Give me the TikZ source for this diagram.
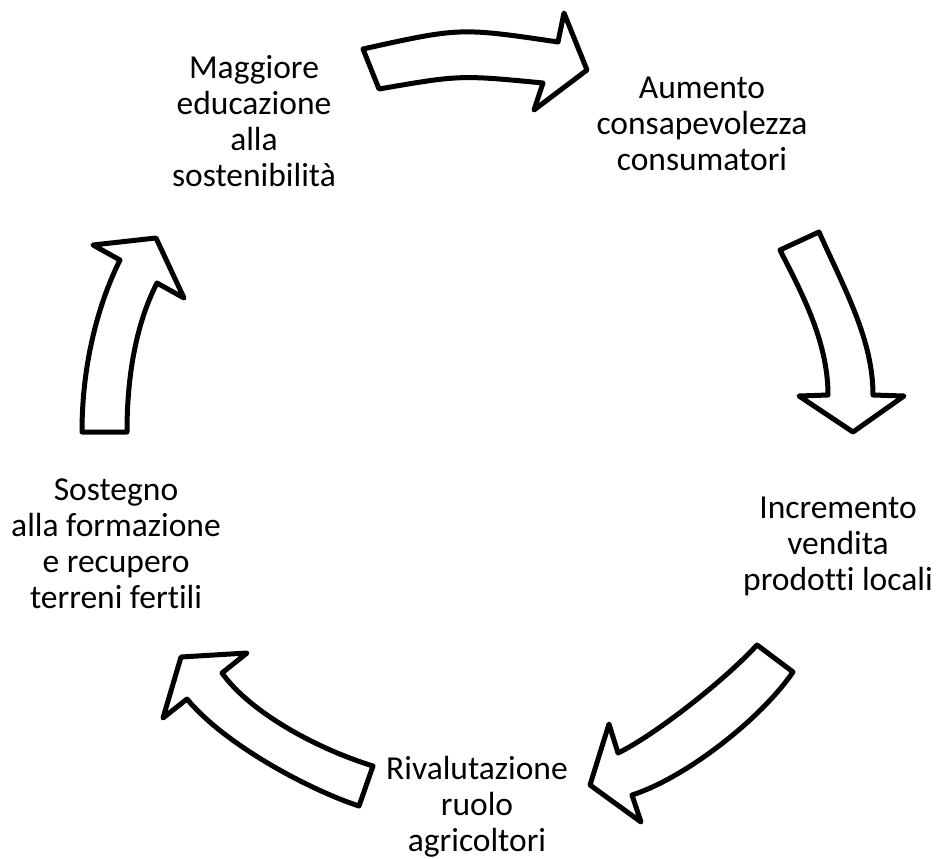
\documentclass[tikz,border=0pt]{standalone}
\usepackage{fontspec}
\setmainfont{Carlito}[Ligatures=NoCommon]
\usepackage{tikz}
\tikzset{
  blockarrow/.style={draw=black, fill=white, line width=5pt, line join=round},
  cycletext/.style={align=center, anchor=base, inner sep=0pt,
    font=\fontsize{33.5}{36}\selectfont}
}

\begin{document}
\begin{tikzpicture}[x=1pt, y=-1pt]
        \useasboundingbox (0, 0) rectangle (937, 859);
        \node[cycletext] (edu) at (254, 186) {Maggiore\\educazione\\alla\\sostenibilità};
        \node[cycletext] (cons) at (702, 170) {Aumento\\consapevolezza\\consumatori};
        \node[cycletext] (vend) at (838, 590) {Incremento\\vendita\\prodotti locali};
        \node[cycletext] (agri) at (477, 851) {Rivalutazione\\ruolo\\agricoltori};
        \node[cycletext] (form) at (116, 608) {Sostegno\\alla formazione\\e recupero\\terreni fertili};
        \draw[blockarrow] (363, 49) .. controls (460, 27.5) .. (558, 42) -- (564, 13) -- (587, 70)
            -- (534, 110) -- (543, 83) .. controls (460, 75) .. (379, 89) -- cycle;
        \draw[blockarrow] (780, 250) -- (819, 232) .. controls (845, 290) and (873, 340) .. (873, 395)
            -- (904, 396) -- (853, 432) -- (799, 396) -- (828, 395)
            .. controls (828, 340) and (800, 290) .. cycle;
        \draw[blockarrow] (757, 645) -- (793, 672) .. controls (760, 720) and (685, 778) .. (632, 795)
            -- (641, 822) -- (590, 785) -- (609, 724) -- (618, 753)
            .. controls (655, 735) and (725, 680) .. cycle;
        \draw[blockarrow] (373, 766) -- (359, 806) .. controls (310, 790) and (225, 745) .. (187, 699)
            -- (163, 718) -- (181, 657) -- (247, 653) -- (222, 673)
            .. controls (250, 712) and (315, 748) .. cycle;
        \draw[blockarrow] (82, 432) -- (127, 432) .. controls (127, 370) and (138, 320) .. (157, 283)
            -- (184, 298) -- (156, 238) -- (93, 245) -- (120, 260)
            .. controls (100, 300) and (82, 360) .. cycle;
    \end{tikzpicture}
\end{document}
